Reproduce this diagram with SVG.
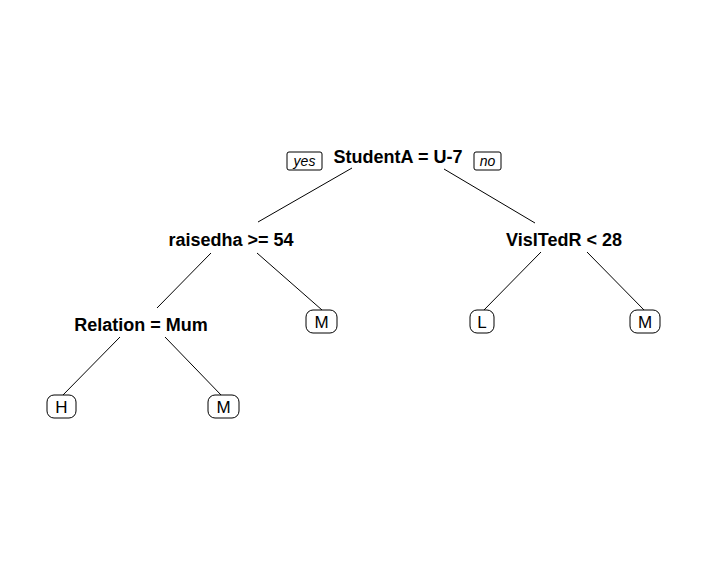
<svg xmlns="http://www.w3.org/2000/svg" width="708" height="565" viewBox="0 0 708 565">
<style>
.split{font-family:"Liberation Sans",Arial,sans-serif;font-weight:bold;font-size:18px;fill:#000;text-anchor:middle}
.leaf{font-family:"Liberation Sans",Arial,sans-serif;font-size:17px;fill:#000;text-anchor:middle}
.lab{font-family:"Liberation Sans",Arial,sans-serif;font-style:italic;font-size:14px;fill:#000;text-anchor:middle}
.box{fill:#fff;stroke:#000;stroke-width:1}
.edge{stroke:#000;stroke-width:1;fill:none}
</style>
<rect width="708" height="565" fill="#fff"/>
<g id="connectors">
<line class="edge" x1="352" y1="168" x2="258" y2="222"/>
<line class="edge" x1="444" y1="169" x2="535" y2="223"/>
<line class="edge" x1="211" y1="253" x2="157" y2="308"/>
<line class="edge" x1="257" y1="253" x2="322" y2="310"/>
<line class="edge" x1="541" y1="252" x2="483" y2="311"/>
<line class="edge" x1="587" y1="252" x2="645" y2="311"/>
<line class="edge" x1="120" y1="337" x2="62" y2="396"/>
<line class="edge" x1="165" y1="337" x2="222" y2="396"/>
</g>
<g id="root">
<text class="split" x="398" y="163">StudentA = U-7</text>
<rect class="box" x="287" y="152" width="35" height="18" rx="2"/>
<text class="lab" x="304.5" y="166">yes</text>
<rect class="box" x="474" y="152" width="27" height="18" rx="2"/>
<text class="lab" x="487.5" y="166">no</text>
</g>
<g id="n_raisedha"><text class="split" x="231" y="246">raisedha &gt;= 54</text></g>
<g id="n_visited"><text class="split" x="564" y="246">VisITedR &lt; 28</text></g>
<g id="n_relation"><text class="split" x="141" y="331">Relation = Mum</text></g>
<g id="leaf_M1"><rect class="box" x="306" y="310" width="31" height="23" rx="7"/><text class="leaf" x="321.5" y="328">M</text></g>
<g id="leaf_L"><rect class="box" x="470" y="310" width="24" height="23" rx="7"/><text class="leaf" x="482" y="328">L</text></g>
<g id="leaf_M2"><rect class="box" x="630" y="310" width="30" height="23" rx="7"/><text class="leaf" x="645" y="328">M</text></g>
<g id="leaf_H"><rect class="box" x="47" y="395" width="29" height="23" rx="7"/><text class="leaf" x="61.5" y="413">H</text></g>
<g id="leaf_M3"><rect class="box" x="208" y="395" width="31" height="23" rx="7"/><text class="leaf" x="223.5" y="413">M</text></g>
</svg>
